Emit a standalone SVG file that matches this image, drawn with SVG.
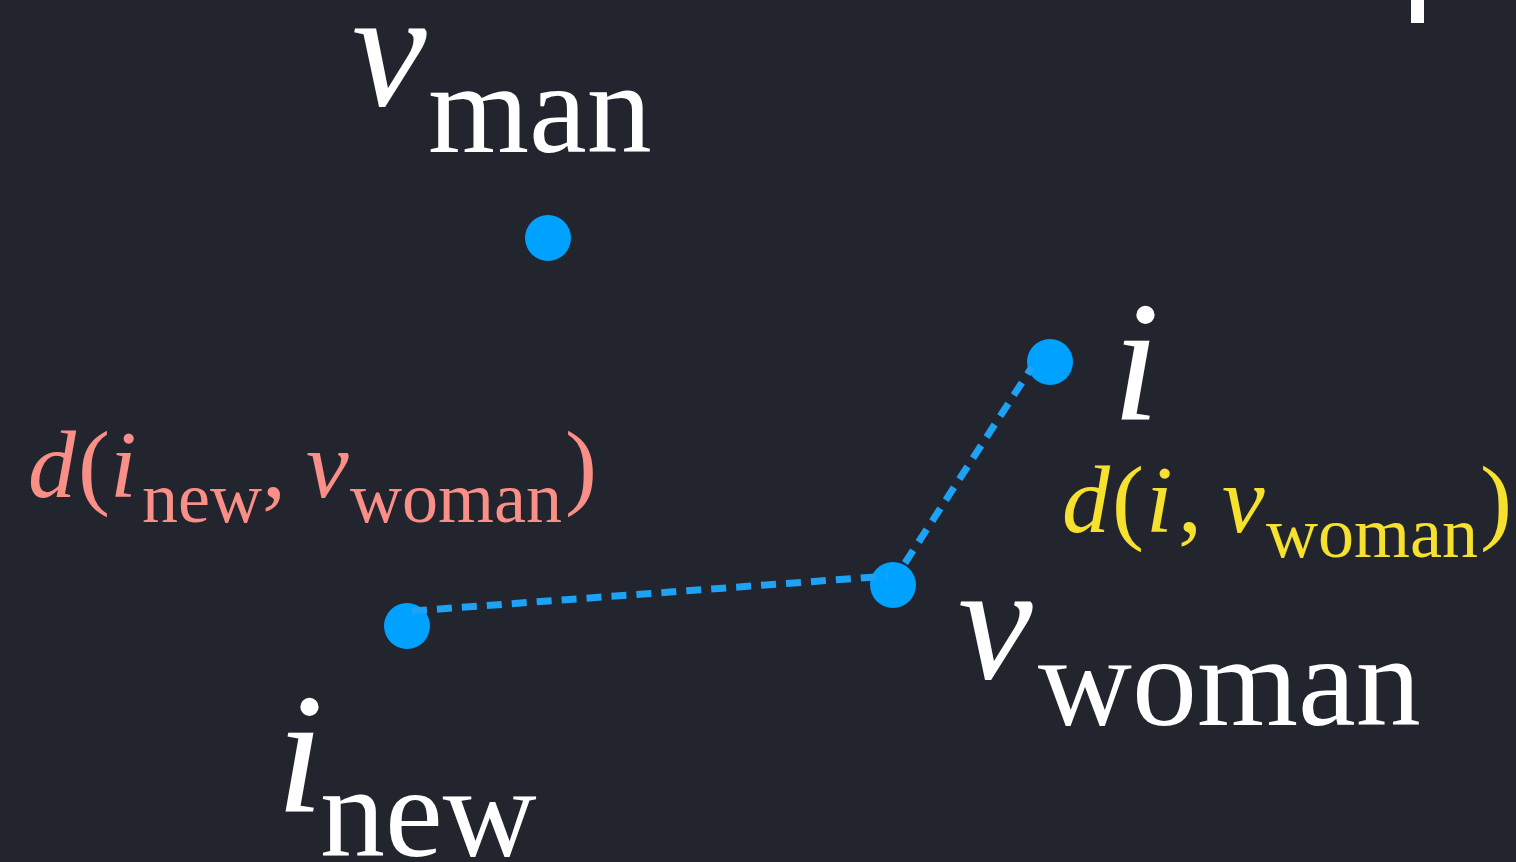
<svg xmlns="http://www.w3.org/2000/svg" width="1516" height="862" viewBox="0 0 1516 862">
<style>
.t{font-family:"Liberation Serif","Times New Roman",serif}
.it{font-style:italic}
.w{fill:#ffffff}
.pk{fill:#fa8f87}
.yl{fill:#f6e12f}
.dot{fill:#00a2ff}
.ln{stroke:#1da2f6;stroke-width:7;stroke-dasharray:15 10;fill:none}
</style>
<rect width="1516" height="862" fill="#22252e"/>
<rect x="1411" y="0" width="13" height="23" fill="#ffffff"/>
<g id="n-vman">
<circle class="dot" cx="548" cy="238" r="23"/>
<text class="t w" y="105"><tspan class="it" x="352" font-size="168">v</tspan><tspan x="428" y="152" font-size="130">man</tspan></text>
</g>
<g id="n-i">
<circle class="dot" cx="1050" cy="362" r="23"/>
<text class="t w it" x="1112" y="420" font-size="172">i</text>
</g>
<g id="n-vwoman">
<circle class="dot" cx="893" cy="585" r="23"/>
<text class="t w" y="678"><tspan class="it" x="958" font-size="168">v</tspan><tspan x="1038" y="725" font-size="130">woman</tspan></text>
</g>
<g id="n-inew">
<circle class="dot" cx="407" cy="626" r="23"/>
<text class="t w" y="812"><tspan class="it" x="276" font-size="172">i</tspan><tspan x="320" y="856" font-size="130">new</tspan></text>
</g>
<g id="connectors">
<line class="ln" x1="412" y1="611" x2="888" y2="576"/>
<line class="ln" x1="905" y1="563" x2="1032" y2="367"/>
</g>
<g id="label-pink">
<text class="t pk" y="497" font-size="96"><tspan class="it" x="28">d</tspan><tspan x="78">(</tspan><tspan class="it" x="110">i</tspan><tspan x="142" y="522" font-size="72">new</tspan><tspan x="262" y="497">,</tspan><tspan class="it" x="306">v</tspan><tspan x="350" y="522" font-size="72">woman</tspan><tspan x="565" y="497">)</tspan></text>
</g>
<g id="label-yellow">
<text class="t yl" y="532" font-size="96"><tspan class="it" x="1062">d</tspan><tspan x="1112">(</tspan><tspan class="it" x="1146">i</tspan><tspan x="1178">,</tspan><tspan class="it" x="1222">v</tspan><tspan x="1266" y="557" font-size="72">woman</tspan><tspan x="1480" y="532">)</tspan></text>
</g>
</svg>
